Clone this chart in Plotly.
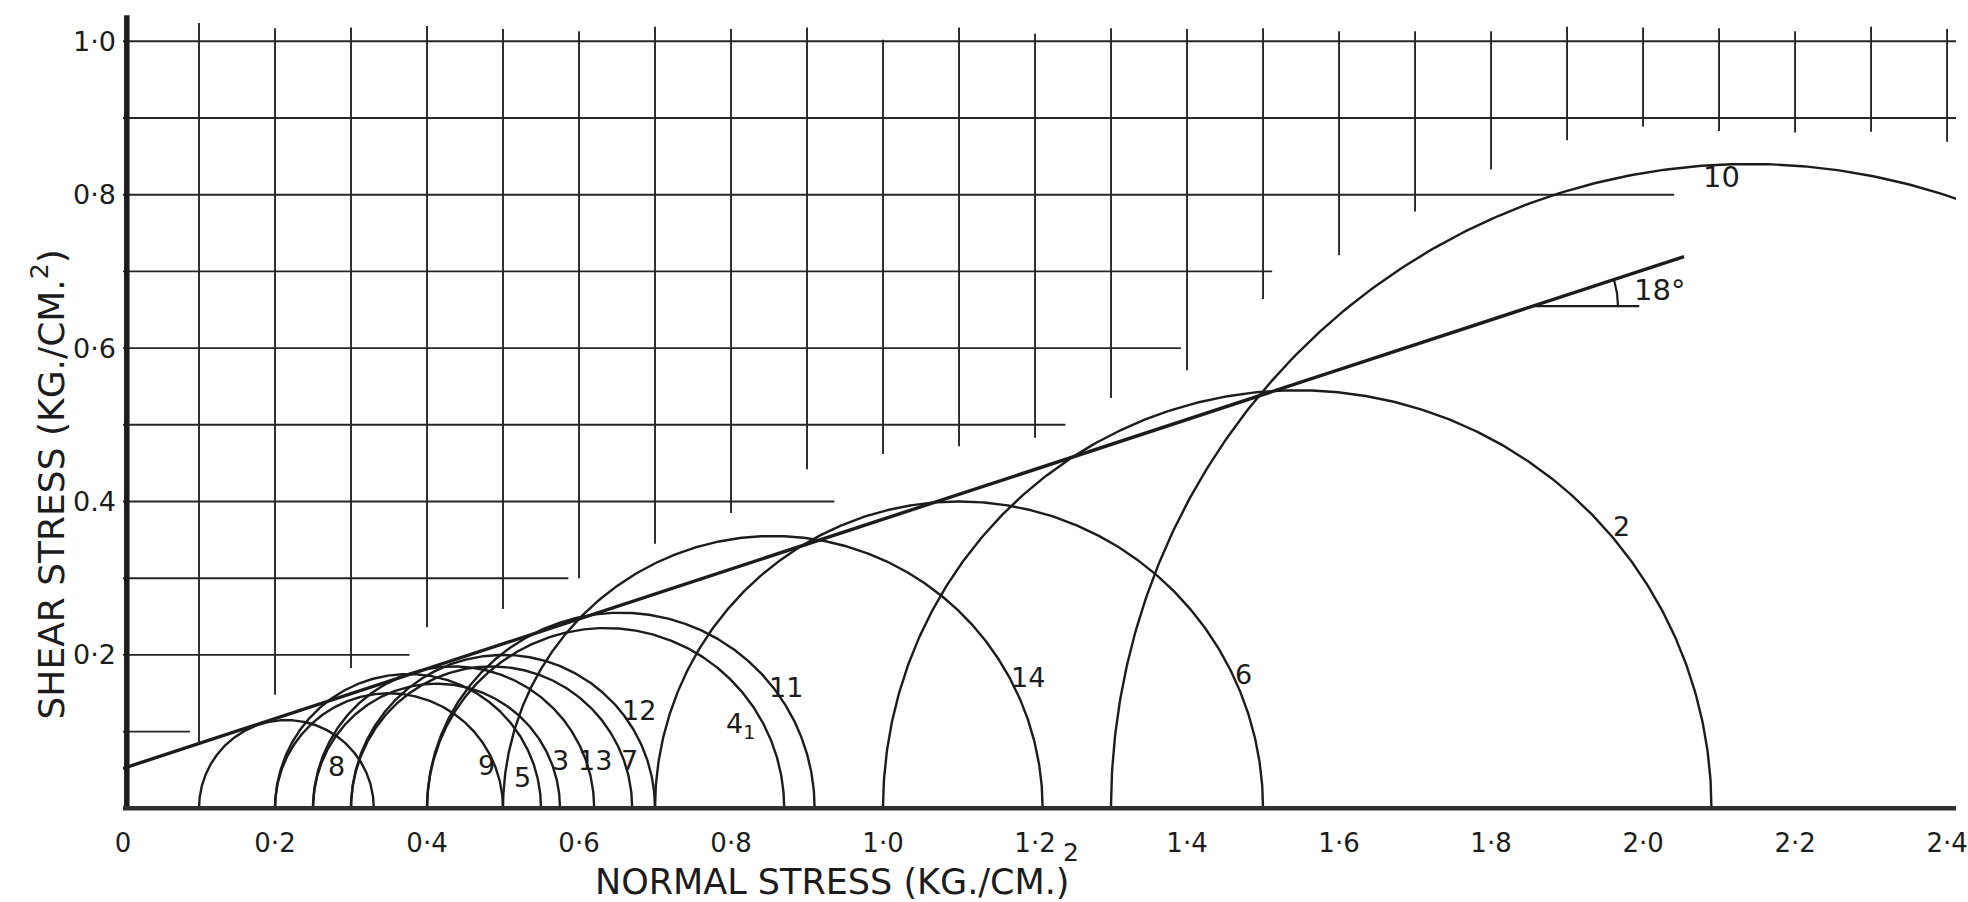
import numpy as np
import plotly.graph_objects as go

# ---------------- data ----------------
# Mohr circles: minor / major principal stresses (kg/cm^2) and their labels
sigma3 = [0.10, 0.20, 0.20, 0.25, 0.25, 0.30, 0.30, 0.40, 0.40, 0.50, 0.70, 1.00, 1.30]
sigma1 = [0.33, 0.50, 0.55, 0.575, 0.62, 0.67, 0.70, 0.87, 0.91, 1.21, 1.50, 2.09, 2.98]
circle_labels = ["8", "9", "5", "3", "13", "7", "12", "4<sub>1</sub>", "11", "14", "6", "2", "10"]
label_x = [0.281, 0.478, 0.525, 0.575, 0.621, 0.667, 0.679, 0.813, 0.872, 1.191, 1.474, 1.972, 2.103]
label_y = [0.055, 0.056, 0.040, 0.062, 0.062, 0.062, 0.128, 0.108, 0.158, 0.171, 0.174, 0.368, 0.823]

# Failure envelope: cohesion intercept and friction angle
cohesion = 0.052
phi_deg = 18
envelope_x_end = 2.054
angle_ref_x = [1.855, 1.995]

# Hand-drawn staircase grid
grid_v_x = [0.1, 0.2, 0.3, 0.4, 0.5, 0.6, 0.7, 0.8, 0.9, 1.0, 1.1, 1.2,
            1.3, 1.4, 1.5, 1.6, 1.7, 1.8, 1.9, 2.0, 2.1, 2.2, 2.3, 2.4]
grid_v_bottom = [0.086, 0.148, 0.183, 0.236, 0.260, 0.300, 0.345, 0.385, 0.442, 0.462, 0.472, 0.483,
                 0.535, 0.571, 0.664, 0.721, 0.778, 0.833, 0.871, 0.889, 0.883, 0.881, 0.882, 0.869]
grid_v_top = [1.024, 1.017, 1.018, 1.020, 1.016, 1.013, 1.019, 1.016, 1.018, 1.002, 1.018, 1.010,
              1.017, 1.016, 1.017, 1.013, 1.013, 1.013, 1.019, 1.018, 1.017, 1.013, 1.019, 1.016]
grid_h_y = [0.1, 0.2, 0.3, 0.4, 0.5, 0.6, 0.7, 0.8, 0.9, 1.0]
grid_h_end = [0.088, 0.377, 0.586, 0.936, 1.240, 1.392, 1.512, 2.041, 2.42, 2.42]

x_tickvals = [0, 0.2, 0.4, 0.6, 0.8, 1.0, 1.2, 1.4, 1.6, 1.8, 2.0, 2.2, 2.4]
x_ticktext = ["0", "0·2", "0·4", "0·6", "0·8", "1·0", "1·2", "1·4", "1·6", "1·8", "2·0", "2·2", "2·4"]
y_tickvals = [0.2, 0.4, 0.6, 0.8, 1.0]
y_ticktext = ["0·2", "0.4", "0·6", "0·8", "1·0"]

x_title = "NORMAL STRESS (KG./CM.)"
y_title = "SHEAR STRESS (KG./CM.<sup>2</sup>)"

# ---------------- figure ----------------
INK = "#1c1c1c"
FONT = "DejaVu Sans"
W, H = 1968, 902
ML, MB = 123, 80
PX_PER_UNIT = 765.0
X0 = 0.0
X1 = X0 + (W - ML) / PX_PER_UNIT
Y0 = -13.7 / 767.0
Y1 = Y0 + (H - MB) / 767.0
PLOT_H = H - MB


def paper_y(py):
    return (PLOT_H - py) / PLOT_H


def paper_x(px):
    return (px - ML) / (W - ML)


fig = go.Figure()

# grid (vertical)
gx, gy = [], []
for x, b, t in zip(grid_v_x, grid_v_bottom, grid_v_top):
    gx += [x, x, None]
    gy += [b, t, None]
fig.add_trace(go.Scatter(x=gx, y=gy, mode="lines", line=dict(color="#262626", width=1.9),
                         hoverinfo="skip", showlegend=False))
# grid (horizontal)
hx, hy = [], []
for y, e in zip(grid_h_y, grid_h_end):
    hx += [0, e, None]
    hy += [y, y, None]
fig.add_trace(go.Scatter(x=hx, y=hy, mode="lines", line=dict(color="#262626", width=1.9),
                         hoverinfo="skip", showlegend=False))

# Mohr circles
t = np.linspace(0, np.pi, 400)
for s3, s1 in zip(sigma3, sigma1):
    c = (s1 + s3) / 2
    r = (s1 - s3) / 2
    fig.add_trace(go.Scatter(x=c + r * np.cos(t), y=r * np.sin(t), mode="lines",
                             line=dict(color=INK, width=2.4), hoverinfo="skip", showlegend=False))

# envelope
tanphi = np.tan(np.radians(phi_deg))
fig.add_trace(go.Scatter(x=[0, envelope_x_end], y=[cohesion, cohesion + tanphi * envelope_x_end],
                         mode="lines", line=dict(color=INK, width=3.4),
                         hoverinfo="skip", showlegend=False))
# angle reference line and arc
yref = cohesion + tanphi * angle_ref_x[0]
fig.add_trace(go.Scatter(x=angle_ref_x, y=[yref, yref], mode="lines",
                         line=dict(color=INK, width=2.2), hoverinfo="skip", showlegend=False))
arc_r = 0.112
a = np.linspace(0, np.radians(phi_deg), 30)
fig.add_trace(go.Scatter(x=angle_ref_x[0] + arc_r * np.cos(a), y=yref + arc_r * np.sin(a),
                         mode="lines", line=dict(color=INK, width=2.2),
                         hoverinfo="skip", showlegend=False))

# axes lines
fig.add_trace(go.Scatter(x=[0.005, 0.005], y=[0, 1.034], mode="lines",
                         line=dict(color=INK, width=5.5), hoverinfo="skip", showlegend=False))
fig.add_trace(go.Scatter(x=[0, X1], y=[0, 0], mode="lines",
                         line=dict(color="#303030", width=4.5), hoverinfo="skip", showlegend=False))

# circle labels
for lx, ly, lt in zip(label_x, label_y, circle_labels):
    fig.add_annotation(x=lx, y=ly, text=lt, showarrow=False, xanchor="center", yanchor="middle",
                       font=dict(family=FONT, size=29 if lt == "10" else 27, color=INK))
fig.add_annotation(x=2.022, y=0.676, text="18°", showarrow=False, xanchor="center", yanchor="middle",
                   font=dict(family=FONT, size=29, color=INK))
# stray "2" under the 1·2 tick (the misplaced exponent of the axis unit)
fig.add_annotation(x=1.247, yref="paper", y=paper_y(853), text="2", showarrow=False,
                   xanchor="center", yanchor="middle",
                   font=dict(family=FONT, size=25, color=INK))

# axis titles
fig.add_annotation(xref="paper", x=paper_x(837), yref="paper", y=paper_y(882), text=x_title,
                   showarrow=False, xanchor="center", yanchor="middle",
                   font=dict(family=FONT, size=35, color=INK))
fig.add_annotation(xref="paper", x=paper_x(48), yref="paper", y=paper_y(484), text=y_title,
                   showarrow=False, textangle=-90, xanchor="center", yanchor="middle",
                   font=dict(family=FONT, size=36, color=INK))

fig.update_layout(
    width=W, height=H, autosize=False,
    margin=dict(l=ML, r=0, t=0, b=MB, pad=0),
    paper_bgcolor="white", plot_bgcolor="white",
    showlegend=False,
    xaxis=dict(range=[X0, X1], showgrid=False, zeroline=False, showline=False,
               tickvals=x_tickvals, ticktext=x_ticktext, ticks="", ticklabelstandoff=3,
               ticklabeloverflow="allow",
               tickfont=dict(family=FONT, size=26, color=INK), fixedrange=True),
    yaxis=dict(range=[Y0, Y1], showgrid=False, zeroline=False, showline=False,
               tickvals=y_tickvals, ticktext=y_ticktext, ticks="", ticklabelstandoff=6,
               tickfont=dict(family=FONT, size=27, color=INK), fixedrange=True),
)

fig.write_html("out.html")
